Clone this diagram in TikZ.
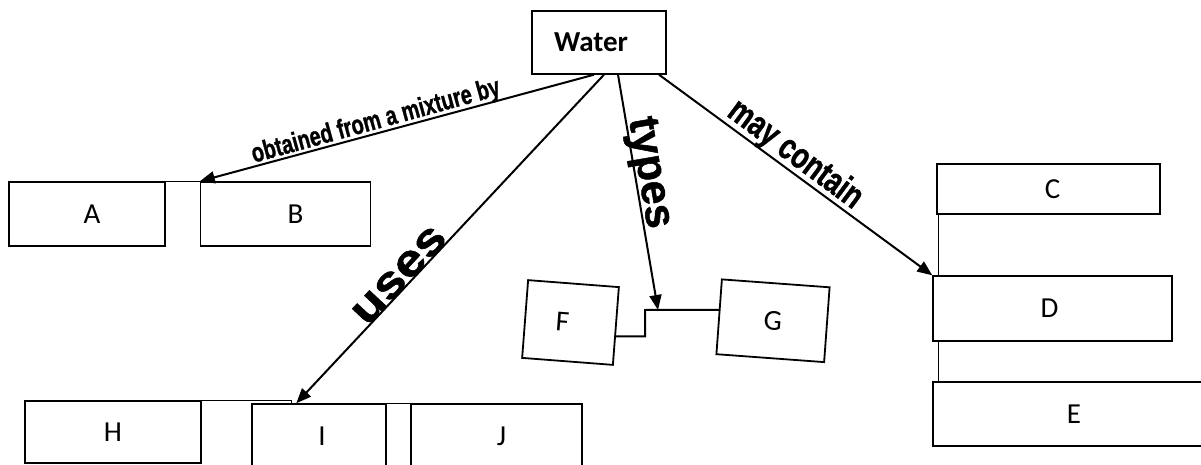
\documentclass[tikz,border=0pt]{standalone}
\usepackage{fontspec}
\setmainfont{Carlito}
\newfontface\labfont[FakeBold=1.2]{Liberation Sans Bold}
\usetikzlibrary{arrows.meta,calc}
\begin{document}
\begin{tikzpicture}[x=1pt,y=-1pt,
  box/.style={draw, line width=1.4pt, inner sep=0pt, font=\fontsize{29}{29}\selectfont},
  conn/.style={line width=1.5pt},
  arr/.style={line width=2pt, -{Triangle[length=15pt,width=12pt]}},
  lab/.style={inner sep=0pt, font=\labfont\fontsize{#1}{#1}\selectfont}]
\useasboundingbox (0,0) rectangle (1201,465);
% boxes
\node[box, minimum width=134pt, minimum height=63pt, font=\fontsize{29}{29}\selectfont\bfseries] (W) at (599,42.5) {Water\hspace*{16pt}};
\node[box, minimum width=156pt, minimum height=64pt] (A) at (87,214) {\hspace*{10pt}A};
\node[box, minimum width=170pt, minimum height=64pt] (B) at (285.5,214) {\hspace*{20pt}B};
\node[box, minimum width=176pt, minimum height=62pt] (H) at (113,432) {H};
\node[box, minimum width=134pt, minimum height=64pt] (I) at (319,436) {\hspace*{6pt}I};
\node[box, minimum width=171pt, minimum height=64pt] (J) at (496.5,436) {\hspace*{10pt}J};
\node[box, minimum width=223pt, minimum height=50pt] (C) at (1048.5,189) {\hspace*{8pt}C};
\node[box, minimum width=239pt, minimum height=65pt] (D) at (1052.5,308.5) {D\hspace*{6pt}};
\node[box, minimum width=272pt, minimum height=64pt] (E) at (1069,414) {\hspace*{10pt}E};
\node[box, line width=1.8pt, rotate=-4.4, minimum width=91pt, minimum height=78pt] (F) at (570.5,322.5) {F\hspace*{16pt}};
\node[box, line width=1.8pt, rotate=-4.2, minimum width=108pt, minimum height=75pt] (G) at (773,320.75) {G};
% connectors between boxes
\draw[conn] (A.north east) -- (B.north west);
\draw[conn] (H.north east) -| ([xshift=40pt]I.north west);
\draw[conn] (I.north east) -- (J.north west);
\draw[conn] ([xshift=2pt]C.south west) -- ([xshift=2pt]C.south west |- D.north);
\draw[conn] ([xshift=6pt]D.south west) -- ([xshift=6pt]D.south west |- E.north);
\coordinate (fgbend) at (645,310);
\draw[line width=2pt] ($(F.north east)!0.63!(F.south east)$) -| (fgbend) -- ($(G.north west)!0.41!(G.south west)$);
\coordinate (typestip) at (658,310);
% arrows from Water
\draw[arr] ([xshift=-5pt]W.south) -- (B.north west);
\draw[arr] ([xshift=5pt]W.south) -- ([xshift=45pt]I.north west);
\draw[arr] ([xshift=19pt]W.south) -- (typestip);
\draw[arr] ([xshift=60pt]W.south) -- (D.north west);
% labels
\node[lab=20, rotate=15.4] (l1) at (376,122) {\scalebox{1.0}[1.35]{obtained from a mixture by}};
\node[lab=50, rotate=47] (l2) at (399.5,275.5) {\scalebox{1.05}[0.9]{uses}};
\node[lab=43, rotate=-80.3] (l3) at (648,173) {types};
\node[lab=28, rotate=-36.6] (l4) at (795,155) {\scalebox{0.97}[1.3]{may contain}};
\end{tikzpicture}
\end{document}
